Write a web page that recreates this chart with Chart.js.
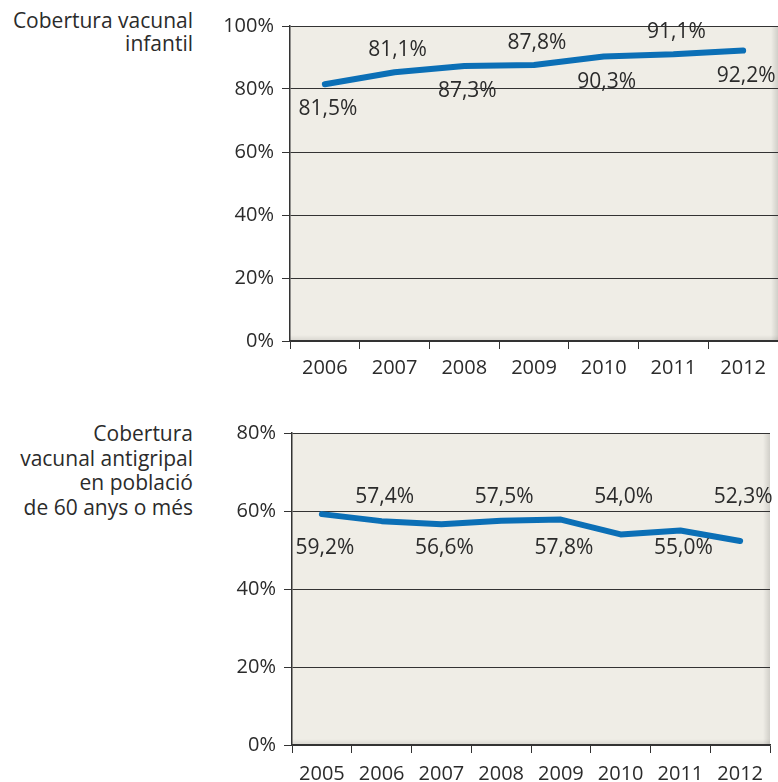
<!DOCTYPE html>
<html>
<head>
<meta charset="utf-8">
<script src="https://cdn.jsdelivr.net/npm/chart.js@4"></script>
<style>
  body { margin: 0; background: #fff; width: 778px; height: 782px; position: relative; overflow: hidden; font-family: "Open Sans", sans-serif; color: #2b2b2b; }
  .box { position: absolute; left: 0; width: 778px; }
  .title { position: absolute; right: 585px; text-align: right; font-size: 21px; white-space: nowrap; }
</style>
</head>
<body>
<div class="title" style="top:9px; line-height:23px;">Cobertura vacunal<br>infantil</div>
<div class="title" style="top:421px; line-height:24.7px;">Cobertura<br>vacunal antigripal<br>en població<br>de 60 anys o més</div>
<div class="box" style="top:0; height:392px;"><canvas id="chartInfantil"></canvas></div>
<div class="box" style="top:392px; height:390px;"><canvas id="chartGrip"></canvas></div>
<script>
const anysInfantil = ['2006', '2007', '2008', '2009', '2010', '2011', '2012'];
const valorsInfantil = [81.5, 85.3, 87.3, 87.6, 90.3, 91.0, 92.2];
const etiquetesInfantil = ['81,5%', '81,1%', '87,3%', '87,8%', '90,3%', '91,1%', '92,2%'];

const anysGrip = ['2005', '2006', '2007', '2008', '2009', '2010', '2011', '2012'];
const valorsGrip = [59.2, 57.4, 56.6, 57.5, 57.8, 54.0, 55.0, 52.3];
const etiquetesGrip = ['59,2%', '57,4%', '56,6%', '57,5%', '57,8%', '54,0%', '55,0%', '52,3%'];

const ticksInfantil = [0, 20, 40, 60, 80, 100];
const ticksGrip = [0, 20, 40, 60, 80];

const FONT = { family: '"Open Sans", sans-serif', size: 20 };
const TEXT = '#2b2b2b';
const BLUE = '#0b6fb6';

const fonsPlot = {
    id: 'fonsPlot',
    beforeDraw(chart) {
        const a = chart.chartArea, ctx = chart.ctx;
        ctx.save();
        ctx.fillStyle = '#efede6';
        ctx.fillRect(a.left, a.top, a.width, a.height);
        let g = ctx.createLinearGradient(a.right - 7, 0, a.right, 0);
        g.addColorStop(0, 'rgba(0,0,0,0)');
        g.addColorStop(1, 'rgba(0,0,0,0.13)');
        ctx.fillStyle = g;
        ctx.fillRect(a.right - 7, a.top, 7, a.height);
        g = ctx.createLinearGradient(0, a.bottom - 6, 0, a.bottom);
        g.addColorStop(0, 'rgba(0,0,0,0)');
        g.addColorStop(1, 'rgba(0,0,0,0.1)');
        ctx.fillStyle = g;
        ctx.fillRect(a.left, a.bottom - 6, a.width, 6);
        ctx.restore();
    }
};

const etiquetes = {
    id: 'etiquetes',
    afterDatasetsDraw(chart, args, opts) {
        const ctx = chart.ctx;
        const meta = chart.getDatasetMeta(0);
        const y = chart.scales.y;
        ctx.save();
        ctx.font = '21px "Open Sans", sans-serif';
        ctx.fillStyle = TEXT;
        ctx.textAlign = 'center';
        ctx.textBaseline = 'middle';
        meta.data.forEach((p, i) => {
            const above = i % 2 === 1;
            let ty;
            if (opts.rowAbove !== undefined) {
                ty = y.getPixelForValue(above ? opts.rowAbove : opts.rowBelow);
            } else {
                ty = above ? p.y - opts.offsetAbove : p.y + opts.offsetBelow;
            }
            ctx.fillText(opts.labels[i], p.x + 3, ty);
        });
        ctx.restore();
    }
};

function makeChart(id, anys, valors, labels, ticks, max, area, labelOpts, xPad) {
    const ctx = document.getElementById(id).getContext('2d');
    return new Chart(ctx, {
        type: 'line',
        data: {
            labels: anys,
            datasets: [{
                data: valors,
                borderColor: BLUE,
                borderWidth: 6,
                borderCapStyle: 'round',
                borderJoinStyle: 'round',
                pointRadius: 0,
                tension: 0,
                fill: false
            }]
        },
        options: {
            responsive: true,
            maintainAspectRatio: false,
            animation: false,
            events: [],
            layout: { padding: { left: 0, right: area.right, top: area.top, bottom: 0 } },
            plugins: {
                legend: { display: false },
                tooltip: { enabled: false },
                etiquetes: Object.assign({ labels: labels }, labelOpts)
            },
            scales: {
                x: {
                    offset: true,
                    grid: { display: true, drawOnChartArea: false, drawTicks: true, tickLength: 8, offset: true, color: '#333', lineWidth: 1 },
                    border: { display: true, color: '#333', width: 1.5 },
                    ticks: { color: TEXT, font: FONT, padding: xPad, maxRotation: 0, autoSkip: false },
                    afterFit(s) { s.height = area.xHeight; }
                },
                y: {
                    min: 0,
                    max: max,
                    afterBuildTicks(s) { s.ticks = ticks.map(v => ({ value: v })); },
                    grid: { color: '#333', lineWidth: 1, tickLength: 8, drawTicks: true },
                    border: { display: true, color: '#333', width: 1.5 },
                    ticks: { color: TEXT, font: FONT, padding: 8, callback: v => v + '%' },
                    afterFit(s) { s.width = area.left; }
                }
            }
        },
        plugins: [fonsPlot, etiquetes]
    });
}

makeChart('chartInfantil', anysInfantil, valorsInfantil, etiquetesInfantil, ticksInfantil, 100,
    { left: 290, right: 0, top: 26, xHeight: 51 }, { offsetAbove: 22, offsetBelow: 25 }, 7);
makeChart('chartGrip', anysGrip, valorsGrip, etiquetesGrip, ticksGrip, 80,
    { left: 292, right: 8, top: 41, xHeight: 37 }, { rowAbove: 63.6, rowBelow: 50.5 }, 9);
</script>
</body>
</html>
